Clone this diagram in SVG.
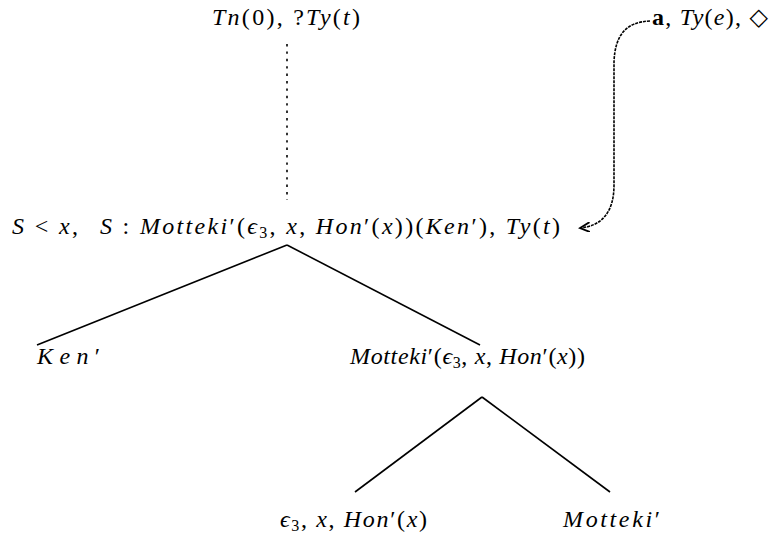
<svg xmlns="http://www.w3.org/2000/svg" width="770" height="533" viewBox="0 0 770 533">
<defs>
<style>
text{font-family:"Liberation Serif","DejaVu Serif",serif;font-size:24px;fill:#000}
.i{font-style:italic}
.b{font-weight:bold}
.sub{font-size:16px}
.edge{stroke:#000;stroke-width:1.6;fill:none}
</style>
<marker id="ah" markerWidth="12" markerHeight="10" refX="10" refY="5" orient="auto" markerUnits="userSpaceOnUse">
<path d="M0,0 L10,5 L0,10" fill="none" stroke="#000" stroke-width="1.8"/>
</marker>
</defs>
<rect width="770" height="533" fill="#fff"/>
<g id="connectors">
<line class="edge" x1="287" y1="44" x2="287" y2="200" stroke-dasharray="2.4,5" stroke-width="2.6"/>
<line class="edge" x1="287" y1="245" x2="37" y2="345"/>
<line class="edge" x1="287" y1="245" x2="480" y2="345"/>
<line class="edge" x1="482" y1="397" x2="355" y2="492"/>
<line class="edge" x1="482" y1="397" x2="610" y2="492"/>
<path class="edge" d="M650,21 C626,22 615,35 614,62 L614,185 C614,212 602,226 580,228" stroke-width="2.6" stroke-dasharray="3,1" marker-end="url(#ah)"/>
</g>
<g id="top">
<text x="212" y="25" textLength="148" lengthAdjust="spacing"><tspan class="i">Tn</tspan>(0), ?<tspan class="i">Ty</tspan>(<tspan class="i">t</tspan>)</text>
</g>
<g id="unfixed">
<text x="652" y="25" textLength="116" lengthAdjust="spacing"><tspan class="b">a</tspan>, <tspan class="i">Ty</tspan>(<tspan class="i">e</tspan>), ◇</text>
</g>
<g id="root">
<text x="12" y="234" textLength="66" lengthAdjust="spacing"><tspan class="i">S</tspan> &lt; <tspan class="i">x</tspan>,</text>
<text x="100" y="234" textLength="460" lengthAdjust="spacing"><tspan class="i">S</tspan> : <tspan class="i">Motteki</tspan>′(<tspan class="i">ϵ</tspan><tspan class="sub" dy="4">3</tspan><tspan dy="-4">, </tspan><tspan class="i">x</tspan>, <tspan class="i">Hon</tspan>′(<tspan class="i">x</tspan>))(<tspan class="i">Ken</tspan>′), <tspan class="i">Ty</tspan>(<tspan class="i">t</tspan>)</text>
</g>
<g id="ken">
<text x="37" y="364" textLength="63" lengthAdjust="spacing"><tspan class="i">Ken</tspan>′</text>
</g>
<g id="motteki-pred">
<text x="350" y="364" textLength="235" lengthAdjust="spacing"><tspan class="i">Motteki</tspan>′(<tspan class="i">ϵ</tspan><tspan class="sub" dy="4">3</tspan><tspan dy="-4">, </tspan><tspan class="i">x</tspan>, <tspan class="i">Hon</tspan>′(<tspan class="i">x</tspan>))</text>
</g>
<g id="args">
<text x="280" y="527" textLength="147" lengthAdjust="spacing"><tspan class="i">ϵ</tspan><tspan class="sub" dy="4">3</tspan><tspan dy="-4">, </tspan><tspan class="i">x</tspan>, <tspan class="i">Hon</tspan>′(<tspan class="i">x</tspan>)</text>
</g>
<g id="motteki">
<text x="563" y="527" textLength="97" lengthAdjust="spacing"><tspan class="i">Motteki</tspan>′</text>
</g>
</svg>
